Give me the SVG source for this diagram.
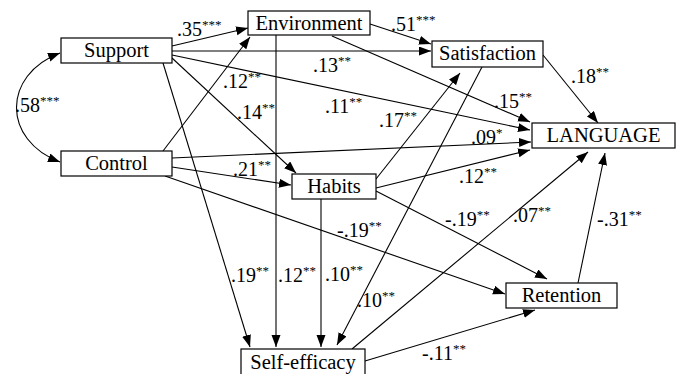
<svg xmlns="http://www.w3.org/2000/svg" width="679" height="374" viewBox="0 0 679 374">
<style>
.box{fill:#fff;stroke:#000;stroke-width:1.2}
.nt{font-family:"Liberation Serif","Times New Roman",serif;font-size:20.5px;fill:#000;text-anchor:middle}
.lbl{font-family:"Liberation Serif","Times New Roman",serif;font-size:20px;fill:#000}
.s{font-size:13px}
.c{fill:none;stroke:#000;stroke-width:1.1}
</style>
<defs>
<marker id="ah" markerUnits="userSpaceOnUse" markerWidth="13" markerHeight="10" refX="12" refY="4.5" orient="auto">
<path d="M0,0 L12,4.5 L0,9 z" fill="#000"/>
</marker>
<marker id="ahs" markerUnits="userSpaceOnUse" markerWidth="13" markerHeight="10" refX="12" refY="4.5" orient="auto-start-reverse">
<path d="M0,0 L12,4.5 L0,9 z" fill="#000"/>
</marker>
</defs>
<g id="connectors">
<path class="c" d="M60,53 C2,75 2,140 60,162" marker-start="url(#ahs)" marker-end="url(#ahs)"/>
<line class="c" x1="172" y1="46" x2="248" y2="28" marker-end="url(#ah)"/>
<line class="c" x1="172" y1="51" x2="431" y2="51" marker-end="url(#ah)"/>
<line class="c" x1="172" y1="55" x2="530" y2="130" marker-end="url(#ah)"/>
<line class="c" x1="172" y1="58" x2="296" y2="173" marker-end="url(#ah)"/>
<line class="c" x1="163" y1="63" x2="250" y2="347" marker-end="url(#ah)"/>
<line class="c" x1="163" y1="151" x2="250" y2="37" marker-end="url(#ah)"/>
<line class="c" x1="172" y1="158" x2="531" y2="142" marker-end="url(#ah)"/>
<line class="c" x1="172" y1="167" x2="291" y2="185" marker-end="url(#ah)"/>
<line class="c" x1="165" y1="176" x2="505" y2="294" marker-end="url(#ah)"/>
<line class="c" x1="370" y1="24" x2="431" y2="44" marker-end="url(#ah)"/>
<line class="c" x1="332" y1="36" x2="530" y2="122" marker-end="url(#ah)"/>
<line class="c" x1="276" y1="35" x2="276" y2="347" marker-end="url(#ah)"/>
<line class="c" x1="543" y1="55" x2="598" y2="123" marker-end="url(#ah)"/>
<line class="c" x1="482" y1="67" x2="337" y2="345" marker-end="url(#ah)"/>
<line class="c" x1="376" y1="179" x2="460" y2="73" marker-end="url(#ah)"/>
<line class="c" x1="376" y1="188" x2="530" y2="150" marker-end="url(#ah)"/>
<line class="c" x1="376" y1="191" x2="547" y2="279" marker-end="url(#ah)"/>
<line class="c" x1="321" y1="199" x2="321" y2="347" marker-end="url(#ah)"/>
<line class="c" x1="578" y1="283" x2="605" y2="153" marker-end="url(#ah)"/>
<line class="c" x1="352" y1="349" x2="588" y2="152" marker-end="url(#ah)"/>
<line class="c" x1="365" y1="361" x2="535" y2="310" marker-end="url(#ah)"/>
</g>
<g id="labels">
<text class="lbl" x="177" y="36">.35<tspan class="s" dy="-7">***</tspan></text>
<text class="lbl" x="15" y="112">.58<tspan class="s" dy="-7">***</tspan></text>
<text class="lbl" x="223" y="88">.12<tspan class="s" dy="-7">**</tspan></text>
<text class="lbl" x="237" y="119">.14<tspan class="s" dy="-7">**</tspan></text>
<text class="lbl" x="313" y="72">.13<tspan class="s" dy="-7">**</tspan></text>
<text class="lbl" x="325" y="113">.11<tspan class="s" dy="-7">**</tspan></text>
<text class="lbl" x="391" y="31">.51<tspan class="s" dy="-7">***</tspan></text>
<text class="lbl" x="571" y="83">.18<tspan class="s" dy="-7">**</tspan></text>
<text class="lbl" x="494" y="108">.15<tspan class="s" dy="-7">**</tspan></text>
<text class="lbl" x="379" y="127">.17<tspan class="s" dy="-7">**</tspan></text>
<text class="lbl" x="471" y="144">.09<tspan class="s" dy="-7">*</tspan></text>
<text class="lbl" x="459" y="183">.12<tspan class="s" dy="-7">**</tspan></text>
<text class="lbl" x="233" y="176">.21<tspan class="s" dy="-7">**</tspan></text>
<text class="lbl" x="337" y="237">-.19<tspan class="s" dy="-7">**</tspan></text>
<text class="lbl" x="445" y="226">-.19<tspan class="s" dy="-7">**</tspan></text>
<text class="lbl" x="513" y="222">.07<tspan class="s" dy="-7">**</tspan></text>
<text class="lbl" x="597" y="226">-.31<tspan class="s" dy="-7">**</tspan></text>
<text class="lbl" x="231" y="282">.19<tspan class="s" dy="-7">**</tspan></text>
<text class="lbl" x="278" y="282">.12<tspan class="s" dy="-7">**</tspan></text>
<text class="lbl" x="325" y="281">.10<tspan class="s" dy="-7">**</tspan></text>
<text class="lbl" x="357" y="307">.10<tspan class="s" dy="-7">**</tspan></text>
<text class="lbl" x="422" y="360">-.11<tspan class="s" dy="-7">**</tspan></text>
</g>
<g id="support"><rect class="box" x="61" y="38" width="111" height="25"/><text class="nt" x="116.5" y="57">Support</text></g>
<g id="control"><rect class="box" x="61" y="151" width="111" height="25"/><text class="nt" x="116.5" y="170">Control</text></g>
<g id="environment"><rect class="box" x="248" y="11" width="122" height="24"/><text class="nt" x="309" y="30">Environment</text></g>
<g id="satisfaction"><rect class="box" x="432" y="41" width="111" height="26"/><text class="nt" x="487.5" y="60">Satisfaction</text></g>
<g id="language"><rect class="box" x="532" y="123" width="143" height="25"/><text class="nt" x="603.5" y="142">LANGUAGE</text></g>
<g id="habits"><rect class="box" x="292" y="174" width="84" height="25"/><text class="nt" x="334" y="193">Habits</text></g>
<g id="retention"><rect class="box" x="506" y="283" width="111" height="25"/><text class="nt" x="561.5" y="302">Retention</text></g>
<g id="selfefficacy"><rect class="box" x="241" y="349" width="124" height="30"/><text class="nt" x="303" y="369">Self-efficacy</text></g>
</svg>
